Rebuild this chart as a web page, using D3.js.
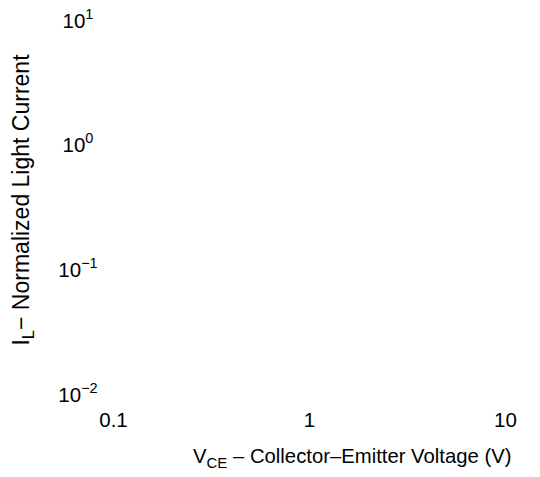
<!DOCTYPE html>
<html><head><meta charset="utf-8">
<script src="https://cdn.jsdelivr.net/npm/d3@7"></script>
<style>
body{margin:0;background:#fff}
svg text{font-family:"Liberation Sans",Arial,Helvetica,sans-serif;fill:#000}
</style>
</head><body>
<svg id="chart" width="540" height="477"></svg>
<script>
// Axis definitions (the reference shows only labels, no curves)
const xTicks = [0.1, 1, 10];
const xTickLabels = ["0.1", "1", "10"];
const yTicks = [0.01, 0.1, 1, 10];
const yTickExponents = ["\u22122", "\u22121", "0", "1"];
const xDomain = [0.1, 10];
const yDomain = [0.01, 10];

const svg = d3.select("#chart");
const TICK_FS = 20.5, SUP_FS = 14.5;

const x = d3.scaleLog().domain(xDomain).range([113, 505]);
const y = d3.scaleLog().domain(yDomain).range([401, 27]);

// X axis
const gx = svg.append("g").attr("transform", "translate(0,427)")
  .call(d3.axisBottom(x).tickValues(xTicks).tickSize(0)
    .tickFormat((d, i) => xTickLabels[i]));
gx.select(".domain").remove();
gx.selectAll(".tick line").remove();
gx.selectAll(".tick text").attr("y", 0).attr("dy", 0)
  .attr("font-size", TICK_FS).attr("font-family", null).attr("fill", "#000");

// Y axis
const gy = svg.append("g").attr("transform", "translate(78,0)")
  .call(d3.axisLeft(y).tickValues(yTicks).tickSize(0).tickFormat(() => ""));
gy.select(".domain").remove();
gy.selectAll(".tick line").remove();
gy.selectAll(".tick text").each(function(d, i) {
  const t = d3.select(this);
  t.attr("x", 0).attr("dy", 0).attr("text-anchor", "middle")
   .attr("font-size", TICK_FS).attr("font-family", null).attr("fill", "#000");
  t.text(null);
  t.append("tspan").text("10");
  t.append("tspan").attr("font-size", SUP_FS).attr("dy", -9).text(yTickExponents[i]);
});

// X title
const xt = svg.append("text").attr("x", 193).attr("y", 463).attr("font-size", 20.3);
xt.append("tspan").text("V");
xt.append("tspan").attr("font-size", 15).attr("dy", 5).text("CE");
xt.append("tspan").attr("dy", -5).text(" \u2013 Collector\u2013Emitter Voltage (V)");

// Y title
const yt = svg.append("text").attr("transform", "translate(29,200) rotate(-90)")
  .attr("text-anchor", "middle").attr("font-size", 23);
yt.append("tspan").text("I");
yt.append("tspan").attr("font-size", 16.5).attr("dy", 5).text("L");
yt.append("tspan").attr("dy", -5).text("\u2212 Normalized Light Current");
</script>
</body></html>
